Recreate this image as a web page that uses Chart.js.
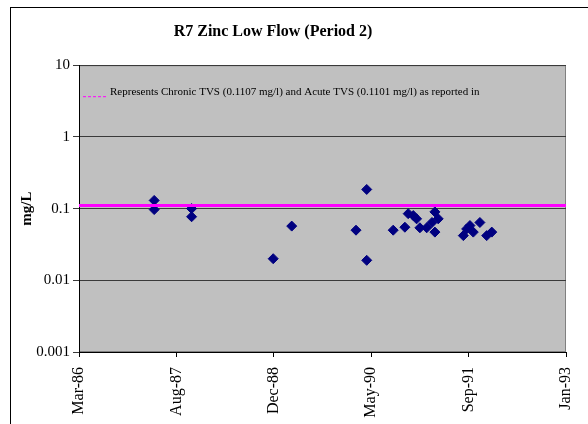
<!DOCTYPE html>
<html>
<head>
<meta charset="utf-8">
<script src="https://cdn.jsdelivr.net/npm/chart.js@4/dist/chart.umd.min.js"></script>
<style>
html,body{margin:0;padding:0;background:#fff;}
#wrap{position:relative;width:588px;height:424px;overflow:hidden;}
canvas{display:block;}
</style>
</head>
<body>
<div id="wrap"><canvas id="c" width="588" height="424"></canvas></div>
<script>
// ---- data ----
const chartTitle = 'R7 Zinc Low Flow (Period 2)';
const yAxisTitle = 'mg/L';
const noteText = 'Represents Chronic TVS (0.1107 mg/l) and Acute TVS (0.1101 mg/l) as reported in';

const sampleDates = [
  '1987-04-15','1987-04-15','1987-10-24','1987-10-24','1988-12-16','1989-03-21',
  '1990-02-14','1990-04-10','1990-04-10','1990-08-24','1990-10-23','1990-11-09',
  '1990-12-05','1990-12-22','1991-01-08','1991-02-12','1991-03-11','1991-03-26',
  '1991-03-26','1991-04-12','1991-08-19','1991-09-05','1991-09-22','1991-10-09',
  '1991-11-12','1991-12-17','1992-01-12'
];
const zincValues = [
  0.130, 0.097, 0.100, 0.077, 0.020, 0.057,
  0.050, 0.185, 0.019, 0.050, 0.055, 0.085,
  0.080, 0.072, 0.054, 0.054, 0.064, 0.090,
  0.047, 0.072, 0.042, 0.052, 0.058, 0.047,
  0.064, 0.042, 0.047
];
const chronicTVS = 0.1107;
const acuteTVS = 0.1101;

const xAxisStart = '1986-03-25';
const xTickDays = [0, 500, 1000, 1500, 2000, 2500];
const xTickLabels = ['Mar-86', 'Aug-87', 'Dec-88', 'May-90', 'Sep-91', 'Jan-93'];
const yTickValues = [0.001, 0.01, 0.1, 1, 10];
const yTickLabels = ['0.001', '0.01', '0.1', '1', '10'];

// ---- helpers ----
const DAY = 86400000;
const t0 = Date.parse(xAxisStart + 'T00:00:00Z');
const dayNum = s => (Date.parse(s + 'T00:00:00Z') - t0) / DAY;
const xMin = xTickDays[0];
const xMax = xTickDays[xTickDays.length - 1];

const FONT = "'Liberation Serif', 'Times New Roman', serif";

const points = sampleDates.map((d, i) => ({ x: dayNum(d), y: zincValues[i] }));

const decor = {
  id: 'decor',
  afterLayout(chart) {
    const tb = chart.titleBlock;
    if (tb) { tb.left -= 15; tb.right -= 15; }
  },
  beforeDraw(chart) {
    const { ctx, chartArea: a } = chart;
    ctx.save();
    ctx.fillStyle = '#ffffff';
    ctx.fillRect(0, 0, chart.width, chart.height);
    ctx.strokeStyle = '#000000';
    ctx.lineWidth = 1;
    ctx.strokeRect(10.5, 7.5, 800, 800);
    ctx.fillStyle = '#C0C0C0';
    ctx.fillRect(a.left, a.top, a.right - a.left, a.bottom - a.top);
    ctx.strokeStyle = '#808080';
    ctx.strokeRect(a.left + 0.5, a.top + 0.5, a.right - a.left - 1, a.bottom - a.top - 1);
    ctx.restore();
  },
  afterDatasetsDraw(chart) {
    const { ctx, chartArea: a } = chart;
    ctx.save();
    ctx.strokeStyle = '#FF00FF';
    ctx.lineWidth = 1;
    ctx.setLineDash([3, 2]);
    ctx.beginPath();
    ctx.moveTo(a.left + 4, a.top + 31.5);
    ctx.lineTo(a.left + 28, a.top + 31.5);
    ctx.stroke();
    ctx.setLineDash([]);
    ctx.fillStyle = '#000';
    ctx.font = "11px " + FONT;
    ctx.textBaseline = 'alphabetic';
    ctx.textAlign = 'left';
    ctx.fillText(noteText, a.left + 31, a.top + 30);
    ctx.restore();
  }
};

new Chart(document.getElementById('c'), {
  data: {
    datasets: [
      {
        type: 'line',
        label: 'Chronic TVS',
        data: [{ x: xMin, y: chronicTVS }, { x: xMax, y: chronicTVS }],
        borderColor: '#FF00FF',
        borderWidth: 3,
        pointRadius: 0,
        order: 0
      },
      {
        type: 'line',
        label: 'Acute TVS',
        data: [{ x: xMin, y: acuteTVS }, { x: xMax, y: acuteTVS }],
        borderColor: '#FF00FF',
        borderWidth: 3,
        pointRadius: 0,
        order: 0
      },
      {
        type: 'scatter',
        label: 'Zinc',
        data: points,
        pointStyle: 'rectRot',
        pointRadius: 5,
        pointBackgroundColor: '#000080',
        pointBorderColor: '#000080',
        pointBorderWidth: 1,
        order: 1
      }
    ]
  },
  options: {
    responsive: false,
    animation: false,
    devicePixelRatio: 1,
    layout: { padding: { left: 10, right: 22, top: 0, bottom: 0 } },
    plugins: {
      legend: { display: false },
      tooltip: { enabled: false },
      title: {
        display: true,
        text: chartTitle,
        color: '#000',
        font: { family: FONT, size: 16, weight: 'bold' },
        padding: { top: 22, bottom: 24 }
      }
    },
    scales: {
      x: {
        type: 'linear',
        min: xMin,
        max: xMax,
        afterBuildTicks: s => { s.ticks = xTickDays.map(v => ({ value: v })); },
        afterFit: s => { s.height = 72; s.paddingLeft = 0; s.paddingRight = 0; },
        ticks: {
          autoSkip: false,
          minRotation: 90,
          maxRotation: 90,
          padding: 10,
          color: '#000',
          font: { family: FONT, size: 16 },
          callback: (v, i) => xTickLabels[i]
        },
        grid: { drawOnChartArea: false, drawTicks: true, tickLength: 5, color: '#000' },
        border: { color: '#000', width: 1 }
      },
      y: {
        type: 'logarithmic',
        min: yTickValues[0],
        max: yTickValues[yTickValues.length - 1],
        afterBuildTicks: s => { s.ticks = yTickValues.map(v => ({ value: v })); },
        afterFit: s => { s.width = 69; },
        ticks: {
          autoSkip: false,
          padding: 3,
          color: '#000',
          font: { family: FONT, size: 15 },
          callback: (v, i) => yTickLabels[i]
        },
        grid: { color: '#3a3a3a', lineWidth: 1, tickLength: 6, drawTicks: true },
        border: { color: '#000', width: 1 },
        title: {
          display: true,
          text: yAxisTitle,
          color: '#000',
          font: { family: FONT, size: 15, weight: 'bold' },
          padding: { top: 8, bottom: 0 }
        }
      }
    }
  },
  plugins: [decor]
});
</script>
</body>
</html>
